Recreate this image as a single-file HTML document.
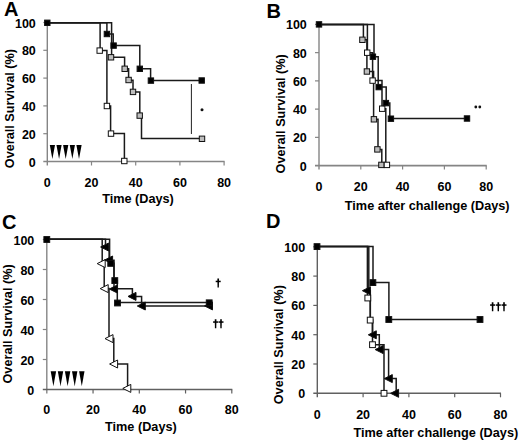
<!DOCTYPE html>
<html><head><meta charset="utf-8"><style>
html,body{margin:0;padding:0;background:#fff;}
svg{display:block;}
text{font-family:"Liberation Sans",sans-serif;font-weight:bold;fill:#000;}
</style></head><body>
<svg width="520" height="443" viewBox="0 0 520 443">
<line x1="47.3" y1="22.5" x2="47.3" y2="165.5" stroke="#858585" stroke-width="1.4"/>
<line x1="43.3" y1="161.5" x2="224.6" y2="161.5" stroke="#858585" stroke-width="1.6"/>
<text x="35.8" y="166.50" font-size="12.5" text-anchor="end" >0</text>
<line x1="43.3" y1="133.7" x2="47.3" y2="133.7" stroke="#858585" stroke-width="1.2"/>
<text x="35.8" y="138.70" font-size="12.5" text-anchor="end" >20</text>
<line x1="43.3" y1="105.9" x2="47.3" y2="105.9" stroke="#858585" stroke-width="1.2"/>
<text x="35.8" y="110.90" font-size="12.5" text-anchor="end" >40</text>
<line x1="43.3" y1="78.1" x2="47.3" y2="78.1" stroke="#858585" stroke-width="1.2"/>
<text x="35.8" y="83.10" font-size="12.5" text-anchor="end" >60</text>
<line x1="43.3" y1="50.3" x2="47.3" y2="50.3" stroke="#858585" stroke-width="1.2"/>
<text x="35.8" y="55.30" font-size="12.5" text-anchor="end" >80</text>
<line x1="43.3" y1="22.5" x2="47.3" y2="22.5" stroke="#858585" stroke-width="1.2"/>
<text x="35.8" y="27.50" font-size="12.5" text-anchor="end" >100</text>
<text x="47.30" y="186.5" font-size="12.5" text-anchor="middle" >0</text>
<line x1="91.5" y1="161.5" x2="91.5" y2="165.5" stroke="#858585" stroke-width="1.2"/>
<text x="91.50" y="186.5" font-size="12.5" text-anchor="middle" >20</text>
<line x1="135.7" y1="161.5" x2="135.7" y2="165.5" stroke="#858585" stroke-width="1.2"/>
<text x="135.70" y="186.5" font-size="12.5" text-anchor="middle" >40</text>
<line x1="179.9" y1="161.5" x2="179.9" y2="165.5" stroke="#858585" stroke-width="1.2"/>
<text x="179.90" y="186.5" font-size="12.5" text-anchor="middle" >60</text>
<line x1="224.1" y1="161.5" x2="224.1" y2="165.5" stroke="#858585" stroke-width="1.2"/>
<text x="224.10" y="186.5" font-size="12.5" text-anchor="middle" >80</text>
<text x="4" y="16" font-size="20" text-anchor="start" >A</text>
<text x="138" y="203.3" font-size="12.7" text-anchor="middle" >Time (Days)</text>
<text x="0" y="0" font-size="12.7" text-anchor="middle" transform="translate(14.4,108.6) rotate(-90)">Overall Survival (%)</text>
<path d="M49.80 144.90 L55.00 144.90 L52.40 158.90 Z" fill="#000"/>
<path d="M56.45 144.90 L61.65 144.90 L59.05 158.90 Z" fill="#000"/>
<path d="M63.10 144.90 L68.30 144.90 L65.70 158.90 Z" fill="#000"/>
<path d="M69.75 144.90 L74.95 144.90 L72.35 158.90 Z" fill="#000"/>
<path d="M76.40 144.90 L81.60 144.90 L79.00 158.90 Z" fill="#000"/>
<path d="M47.3 22.8 H100.1 V50.6 H106.9 V106 H110.6 V133.6 H124.4 V161" fill="none" stroke="#1a1a1a" stroke-width="1.5"/>
<path d="M47.3 22.8 H111.6 V57.3 H124.6 V68.8 H128.6 V80.2 H133 V91.9 H139.8 V115.6 H141.5 V138.6 H202" fill="none" stroke="#1a1a1a" stroke-width="1.5"/>
<path d="M47.3 22.8 H106.9 V34 H113.2 V45.6 H139.8 V68.8 H150.6 V80.6 H201.6" fill="none" stroke="#1a1a1a" stroke-width="1.5"/>
<rect x="97.00" y="47.90" width="5.4" height="5.4" fill="#fff" stroke="#111" stroke-width="1"/>
<rect x="104.20" y="103.30" width="5.4" height="5.4" fill="#fff" stroke="#111" stroke-width="1"/>
<rect x="108.30" y="130.90" width="5.4" height="5.4" fill="#fff" stroke="#111" stroke-width="1"/>
<rect x="121.60" y="158.30" width="5.4" height="5.4" fill="#fff" stroke="#111" stroke-width="1"/>
<rect x="108.30" y="54.60" width="5.4" height="5.4" fill="#bdbdbd" stroke="#111" stroke-width="1"/>
<rect x="122.00" y="66.10" width="5.4" height="5.4" fill="#bdbdbd" stroke="#111" stroke-width="1"/>
<rect x="125.90" y="77.30" width="5.4" height="5.4" fill="#bdbdbd" stroke="#111" stroke-width="1"/>
<rect x="130.30" y="89.20" width="5.4" height="5.4" fill="#bdbdbd" stroke="#111" stroke-width="1"/>
<rect x="137.00" y="112.90" width="5.4" height="5.4" fill="#bdbdbd" stroke="#111" stroke-width="1"/>
<rect x="199.30" y="136.10" width="5.4" height="5.4" fill="#bdbdbd" stroke="#111" stroke-width="1"/>
<rect x="44.60" y="20.10" width="5.4" height="5.4" fill="#000" stroke="#111" stroke-width="1"/>
<rect x="104.20" y="31.30" width="5.4" height="5.4" fill="#000" stroke="#111" stroke-width="1"/>
<rect x="110.90" y="42.90" width="5.4" height="5.4" fill="#000" stroke="#111" stroke-width="1"/>
<rect x="137.10" y="66.10" width="5.4" height="5.4" fill="#000" stroke="#111" stroke-width="1"/>
<rect x="148.20" y="77.90" width="5.4" height="5.4" fill="#000" stroke="#111" stroke-width="1"/>
<rect x="199.00" y="77.80" width="5.4" height="5.4" fill="#000" stroke="#111" stroke-width="1"/>
<line x1="191.4" y1="84.0" x2="191.4" y2="134.0" stroke="#222" stroke-width="1"/>
<circle cx="202" cy="109.8" r="1.5" fill="#111"/>
<line x1="319.0" y1="24.4" x2="319.0" y2="169.6" stroke="#858585" stroke-width="1.4"/>
<line x1="315.0" y1="165.6" x2="486.7" y2="165.6" stroke="#858585" stroke-width="1.6"/>
<text x="306.8" y="170.60" font-size="12.5" text-anchor="end" >0</text>
<line x1="315.0" y1="137.36" x2="319.0" y2="137.36" stroke="#858585" stroke-width="1.2"/>
<text x="306.8" y="142.36" font-size="12.5" text-anchor="end" >20</text>
<line x1="315.0" y1="109.12" x2="319.0" y2="109.12" stroke="#858585" stroke-width="1.2"/>
<text x="306.8" y="114.12" font-size="12.5" text-anchor="end" >40</text>
<line x1="315.0" y1="80.88" x2="319.0" y2="80.88" stroke="#858585" stroke-width="1.2"/>
<text x="306.8" y="85.88" font-size="12.5" text-anchor="end" >60</text>
<line x1="315.0" y1="52.64" x2="319.0" y2="52.64" stroke="#858585" stroke-width="1.2"/>
<text x="306.8" y="57.64" font-size="12.5" text-anchor="end" >80</text>
<line x1="315.0" y1="24.4" x2="319.0" y2="24.4" stroke="#858585" stroke-width="1.2"/>
<text x="306.8" y="29.40" font-size="12.5" text-anchor="end" >100</text>
<text x="319.00" y="190.5" font-size="12.5" text-anchor="middle" >0</text>
<line x1="360.8" y1="165.6" x2="360.8" y2="169.6" stroke="#858585" stroke-width="1.2"/>
<text x="360.80" y="190.5" font-size="12.5" text-anchor="middle" >20</text>
<line x1="402.6" y1="165.6" x2="402.6" y2="169.6" stroke="#858585" stroke-width="1.2"/>
<text x="402.60" y="190.5" font-size="12.5" text-anchor="middle" >40</text>
<line x1="444.4" y1="165.6" x2="444.4" y2="169.6" stroke="#858585" stroke-width="1.2"/>
<text x="444.40" y="190.5" font-size="12.5" text-anchor="middle" >60</text>
<line x1="486.2" y1="165.6" x2="486.2" y2="169.6" stroke="#858585" stroke-width="1.2"/>
<text x="486.20" y="190.5" font-size="12.5" text-anchor="middle" >80</text>
<text x="266.4" y="17.5" font-size="20" text-anchor="start" >B</text>
<text x="427.2" y="210.2" font-size="12.7" text-anchor="middle" >Time after challenge (Days)</text>
<text x="0" y="0" font-size="12.7" text-anchor="middle" transform="translate(284.9,113.8) rotate(-90)">Overall Survival (%)</text>
<path d="M319 24.4 H363.4 V39.8 H366.9 V71.5 H373.6 V119.3 H378 V149.4 H381.8 V164.9" fill="none" stroke="#1a1a1a" stroke-width="1.5"/>
<path d="M319 24.4 H367.4 V52.7 H372.6 V80.6 H382 V108.7 H385.8 V164.9" fill="none" stroke="#1a1a1a" stroke-width="1.5"/>
<path d="M319 24.4 H374 V56.7 H378.2 V87.1 H386.2 V103.1 H389.8 V118.6 H467" fill="none" stroke="#1a1a1a" stroke-width="1.5"/>
<rect x="359.70" y="37.10" width="5.4" height="5.4" fill="#bdbdbd" stroke="#111" stroke-width="1"/>
<rect x="364.20" y="68.80" width="5.4" height="5.4" fill="#bdbdbd" stroke="#111" stroke-width="1"/>
<rect x="371.20" y="116.60" width="5.4" height="5.4" fill="#bdbdbd" stroke="#111" stroke-width="1"/>
<rect x="374.70" y="146.70" width="5.4" height="5.4" fill="#bdbdbd" stroke="#111" stroke-width="1"/>
<rect x="378.70" y="162.20" width="5.4" height="5.4" fill="#bdbdbd" stroke="#111" stroke-width="1"/>
<rect x="364.50" y="50.00" width="5.4" height="5.4" fill="#fff" stroke="#111" stroke-width="1"/>
<rect x="369.90" y="77.90" width="5.4" height="5.4" fill="#fff" stroke="#111" stroke-width="1"/>
<rect x="379.50" y="106.00" width="5.4" height="5.4" fill="#fff" stroke="#111" stroke-width="1"/>
<rect x="384.20" y="162.20" width="5.4" height="5.4" fill="#fff" stroke="#111" stroke-width="1"/>
<rect x="316.30" y="21.70" width="5.4" height="5.4" fill="#000" stroke="#111" stroke-width="1"/>
<rect x="370.20" y="54.00" width="5.4" height="5.4" fill="#000" stroke="#111" stroke-width="1"/>
<rect x="376.00" y="84.40" width="5.4" height="5.4" fill="#000" stroke="#111" stroke-width="1"/>
<rect x="383.20" y="100.40" width="5.4" height="5.4" fill="#000" stroke="#111" stroke-width="1"/>
<rect x="388.20" y="116.00" width="5.4" height="5.4" fill="#000" stroke="#111" stroke-width="1"/>
<rect x="464.30" y="115.80" width="5.4" height="5.4" fill="#000" stroke="#111" stroke-width="1"/>
<circle cx="475.8" cy="107" r="1.4" fill="#111"/><circle cx="479.8" cy="107" r="1.4" fill="#111"/>
<line x1="46.8" y1="239.5" x2="46.8" y2="393.5" stroke="#858585" stroke-width="1.4"/>
<line x1="42.8" y1="389.5" x2="232.3" y2="389.5" stroke="#606060" stroke-width="1.6"/>
<text x="34.3" y="394.50" font-size="12.5" text-anchor="end" >0</text>
<line x1="42.8" y1="359.5" x2="46.8" y2="359.5" stroke="#858585" stroke-width="1.2"/>
<text x="34.3" y="364.50" font-size="12.5" text-anchor="end" >20</text>
<line x1="42.8" y1="329.5" x2="46.8" y2="329.5" stroke="#858585" stroke-width="1.2"/>
<text x="34.3" y="334.50" font-size="12.5" text-anchor="end" >40</text>
<line x1="42.8" y1="299.5" x2="46.8" y2="299.5" stroke="#858585" stroke-width="1.2"/>
<text x="34.3" y="304.50" font-size="12.5" text-anchor="end" >60</text>
<line x1="42.8" y1="269.5" x2="46.8" y2="269.5" stroke="#858585" stroke-width="1.2"/>
<text x="34.3" y="274.50" font-size="12.5" text-anchor="end" >80</text>
<line x1="42.8" y1="239.5" x2="46.8" y2="239.5" stroke="#858585" stroke-width="1.2"/>
<text x="34.3" y="244.50" font-size="12.5" text-anchor="end" >100</text>
<text x="46.80" y="414.2" font-size="12.5" text-anchor="middle" >0</text>
<line x1="93.05" y1="389.5" x2="93.05" y2="393.5" stroke="#606060" stroke-width="1.2"/>
<text x="93.05" y="414.2" font-size="12.5" text-anchor="middle" >20</text>
<line x1="139.3" y1="389.5" x2="139.3" y2="393.5" stroke="#606060" stroke-width="1.2"/>
<text x="139.30" y="414.2" font-size="12.5" text-anchor="middle" >40</text>
<line x1="185.55" y1="389.5" x2="185.55" y2="393.5" stroke="#606060" stroke-width="1.2"/>
<text x="185.55" y="414.2" font-size="12.5" text-anchor="middle" >60</text>
<line x1="231.8" y1="389.5" x2="231.8" y2="393.5" stroke="#606060" stroke-width="1.2"/>
<text x="231.80" y="414.2" font-size="12.5" text-anchor="middle" >80</text>
<text x="2" y="229" font-size="20" text-anchor="start" >C</text>
<text x="140.9" y="430.7" font-size="12.7" text-anchor="middle" >Time (Days)</text>
<text x="0" y="0" font-size="12.7" text-anchor="middle" transform="translate(12,323.9) rotate(-90)">Overall Survival (%)</text>
<path d="M50.70 371.20 L56.10 371.20 L53.40 386.20 Z" fill="#000"/>
<path d="M57.80 371.20 L63.20 371.20 L60.50 386.20 Z" fill="#000"/>
<path d="M64.90 371.20 L70.30 371.20 L67.60 386.20 Z" fill="#000"/>
<path d="M72.00 371.20 L77.40 371.20 L74.70 386.20 Z" fill="#000"/>
<path d="M79.10 371.20 L84.50 371.20 L81.80 386.20 Z" fill="#000"/>
<path d="M46.5 239.2 H102.2 V263.6 H104.2 V288.6 H109 V338.6 H113.8 V364 H127.6 V388.5" fill="none" stroke="#1a1a1a" stroke-width="1.5"/>
<path d="M46.5 239.2 H105.5 V247 H109.2 V260.2 H114 V288.8 H132.4 V296.6 H141.6 V305.9 H209" fill="none" stroke="#1a1a1a" stroke-width="1.5"/>
<path d="M46.5 239.2 H109.6 V263.3 H114 V280.6 H117.3 V302.6 H209" fill="none" stroke="#1a1a1a" stroke-width="1.5"/>
<path d="M97.20 263.60 L105.20 259.60 L105.20 267.60 Z" fill="#fff" stroke="#111" stroke-width="1" stroke-linejoin="miter"/>
<path d="M100.20 288.60 L108.20 284.60 L108.20 292.60 Z" fill="#fff" stroke="#111" stroke-width="1" stroke-linejoin="miter"/>
<path d="M105.00 338.60 L113.00 334.60 L113.00 342.60 Z" fill="#fff" stroke="#111" stroke-width="1" stroke-linejoin="miter"/>
<path d="M109.60 364.00 L117.60 360.00 L117.60 368.00 Z" fill="#fff" stroke="#111" stroke-width="1" stroke-linejoin="miter"/>
<path d="M122.80 388.40 L130.80 384.40 L130.80 392.40 Z" fill="#fff" stroke="#111" stroke-width="1" stroke-linejoin="miter"/>
<path d="M100.60 247.00 L108.60 243.00 L108.60 251.00 Z" fill="#000" stroke="#111" stroke-width="1" stroke-linejoin="miter"/>
<path d="M104.60 260.00 L112.60 256.00 L112.60 264.00 Z" fill="#000" stroke="#111" stroke-width="1" stroke-linejoin="miter"/>
<path d="M109.30 289.00 L117.30 285.00 L117.30 293.00 Z" fill="#000" stroke="#111" stroke-width="1" stroke-linejoin="miter"/>
<path d="M128.00 296.40 L136.00 292.40 L136.00 300.40 Z" fill="#000" stroke="#111" stroke-width="1" stroke-linejoin="miter"/>
<path d="M137.30 306.00 L145.30 302.00 L145.30 310.00 Z" fill="#000" stroke="#111" stroke-width="1" stroke-linejoin="miter"/>
<path d="M204.50 305.90 L212.50 301.90 L212.50 309.90 Z" fill="#000" stroke="#111" stroke-width="1" stroke-linejoin="miter"/>
<rect x="43.90" y="236.60" width="5.8" height="5.8" fill="#000" stroke="#111" stroke-width="1"/>
<rect x="107.80" y="260.50" width="5.8" height="5.8" fill="#000" stroke="#111" stroke-width="1"/>
<rect x="111.90" y="277.70" width="5.8" height="5.8" fill="#000" stroke="#111" stroke-width="1"/>
<rect x="114.60" y="300.10" width="5.8" height="5.8" fill="#000" stroke="#111" stroke-width="1"/>
<rect x="206.30" y="299.90" width="5.8" height="5.8" fill="#000" stroke="#111" stroke-width="1"/>
<path d="M217.35 278.60 H219.05 L218.88 287.60 H217.52 Z" fill="#000"/>
<rect x="215.70" y="280.70" width="5.0" height="1.5" fill="#000"/>
<path d="M214.75 319.20 H216.45 L216.28 328.20 H214.92 Z" fill="#000"/>
<rect x="213.10" y="321.30" width="5.0" height="1.5" fill="#000"/>
<path d="M220.15 319.20 H221.85 L221.68 328.20 H220.32 Z" fill="#000"/>
<rect x="218.50" y="321.30" width="5.0" height="1.5" fill="#000"/>
<line x1="317.3" y1="246.8" x2="317.3" y2="397.3" stroke="#606060" stroke-width="1.4"/>
<line x1="313.3" y1="393.3" x2="501.0" y2="393.3" stroke="#606060" stroke-width="1.6"/>
<text x="305.2" y="398.30" font-size="12.5" text-anchor="end" >0</text>
<line x1="313.3" y1="364.0" x2="317.3" y2="364.0" stroke="#606060" stroke-width="1.2"/>
<text x="305.2" y="369.00" font-size="12.5" text-anchor="end" >20</text>
<line x1="313.3" y1="334.7" x2="317.3" y2="334.7" stroke="#606060" stroke-width="1.2"/>
<text x="305.2" y="339.70" font-size="12.5" text-anchor="end" >40</text>
<line x1="313.3" y1="305.4" x2="317.3" y2="305.4" stroke="#606060" stroke-width="1.2"/>
<text x="305.2" y="310.40" font-size="12.5" text-anchor="end" >60</text>
<line x1="313.3" y1="276.1" x2="317.3" y2="276.1" stroke="#606060" stroke-width="1.2"/>
<text x="305.2" y="281.10" font-size="12.5" text-anchor="end" >80</text>
<line x1="313.3" y1="246.8" x2="317.3" y2="246.8" stroke="#606060" stroke-width="1.2"/>
<text x="305.2" y="251.80" font-size="12.5" text-anchor="end" >100</text>
<text x="317.30" y="418.6" font-size="12.5" text-anchor="middle" >0</text>
<line x1="363.1" y1="393.3" x2="363.1" y2="397.3" stroke="#606060" stroke-width="1.2"/>
<text x="363.10" y="418.6" font-size="12.5" text-anchor="middle" >20</text>
<line x1="408.9" y1="393.3" x2="408.9" y2="397.3" stroke="#606060" stroke-width="1.2"/>
<text x="408.90" y="418.6" font-size="12.5" text-anchor="middle" >40</text>
<line x1="454.7" y1="393.3" x2="454.7" y2="397.3" stroke="#606060" stroke-width="1.2"/>
<text x="454.70" y="418.6" font-size="12.5" text-anchor="middle" >60</text>
<line x1="500.5" y1="393.3" x2="500.5" y2="397.3" stroke="#606060" stroke-width="1.2"/>
<text x="500.50" y="418.6" font-size="12.5" text-anchor="middle" >80</text>
<text x="266" y="227.7" font-size="20" text-anchor="start" >D</text>
<text x="435.8" y="436.7" font-size="12.7" text-anchor="middle" >Time after challenge (Days)</text>
<text x="0" y="0" font-size="12.7" text-anchor="middle" transform="translate(282.8,344.7) rotate(-90)">Overall Survival (%)</text>
<path d="M317.3 246.5 H367.4 V298 H370.3 V320.1 H372.5 V344.7 H384 V393.3" fill="none" stroke="#1a1a1a" stroke-width="1.5"/>
<path d="M317.3 246.5 H368.8 V290.7 H370.3 V320 H372.5 V334.8 H379.3 V349.6 H388.6 V378.6 H396.2 V393.3" fill="none" stroke="#1a1a1a" stroke-width="1.5"/>
<path d="M317.3 246.5 H373 V282.6 H388.9 V319.5 H480" fill="none" stroke="#1a1a1a" stroke-width="1.5"/>
<rect x="364.90" y="295.10" width="5.8" height="5.8" fill="#fff" stroke="#111" stroke-width="1"/>
<rect x="367.30" y="317.20" width="5.8" height="5.8" fill="#fff" stroke="#111" stroke-width="1"/>
<rect x="369.60" y="341.80" width="5.8" height="5.8" fill="#fff" stroke="#111" stroke-width="1"/>
<rect x="381.10" y="390.40" width="5.8" height="5.8" fill="#fff" stroke="#111" stroke-width="1"/>
<path d="M362.40 290.70 L370.40 286.70 L370.40 294.70 Z" fill="#000" stroke="#111" stroke-width="1" stroke-linejoin="miter"/>
<path d="M368.30 334.80 L376.30 330.80 L376.30 338.80 Z" fill="#000" stroke="#111" stroke-width="1" stroke-linejoin="miter"/>
<path d="M375.20 349.60 L383.20 345.60 L383.20 353.60 Z" fill="#000" stroke="#111" stroke-width="1" stroke-linejoin="miter"/>
<path d="M384.30 378.60 L392.30 374.60 L392.30 382.60 Z" fill="#000" stroke="#111" stroke-width="1" stroke-linejoin="miter"/>
<path d="M390.60 393.30 L398.60 389.30 L398.60 397.30 Z" fill="#000" stroke="#111" stroke-width="1" stroke-linejoin="miter"/>
<rect x="314.10" y="243.70" width="5.8" height="5.8" fill="#000" stroke="#111" stroke-width="1"/>
<rect x="370.00" y="279.70" width="5.8" height="5.8" fill="#000" stroke="#111" stroke-width="1"/>
<rect x="385.90" y="316.60" width="5.8" height="5.8" fill="#000" stroke="#111" stroke-width="1"/>
<rect x="477.10" y="316.60" width="5.8" height="5.8" fill="#000" stroke="#111" stroke-width="1"/>
<path d="M491.75 302.20 H493.45 L493.28 311.20 H491.92 Z" fill="#000"/>
<rect x="490.10" y="304.30" width="5.0" height="1.5" fill="#000"/>
<path d="M497.45 302.20 H499.15 L498.98 311.20 H497.62 Z" fill="#000"/>
<rect x="495.80" y="304.30" width="5.0" height="1.5" fill="#000"/>
<path d="M503.15 302.20 H504.85 L504.68 311.20 H503.32 Z" fill="#000"/>
<rect x="501.50" y="304.30" width="5.0" height="1.5" fill="#000"/>
</svg>
</body></html>
